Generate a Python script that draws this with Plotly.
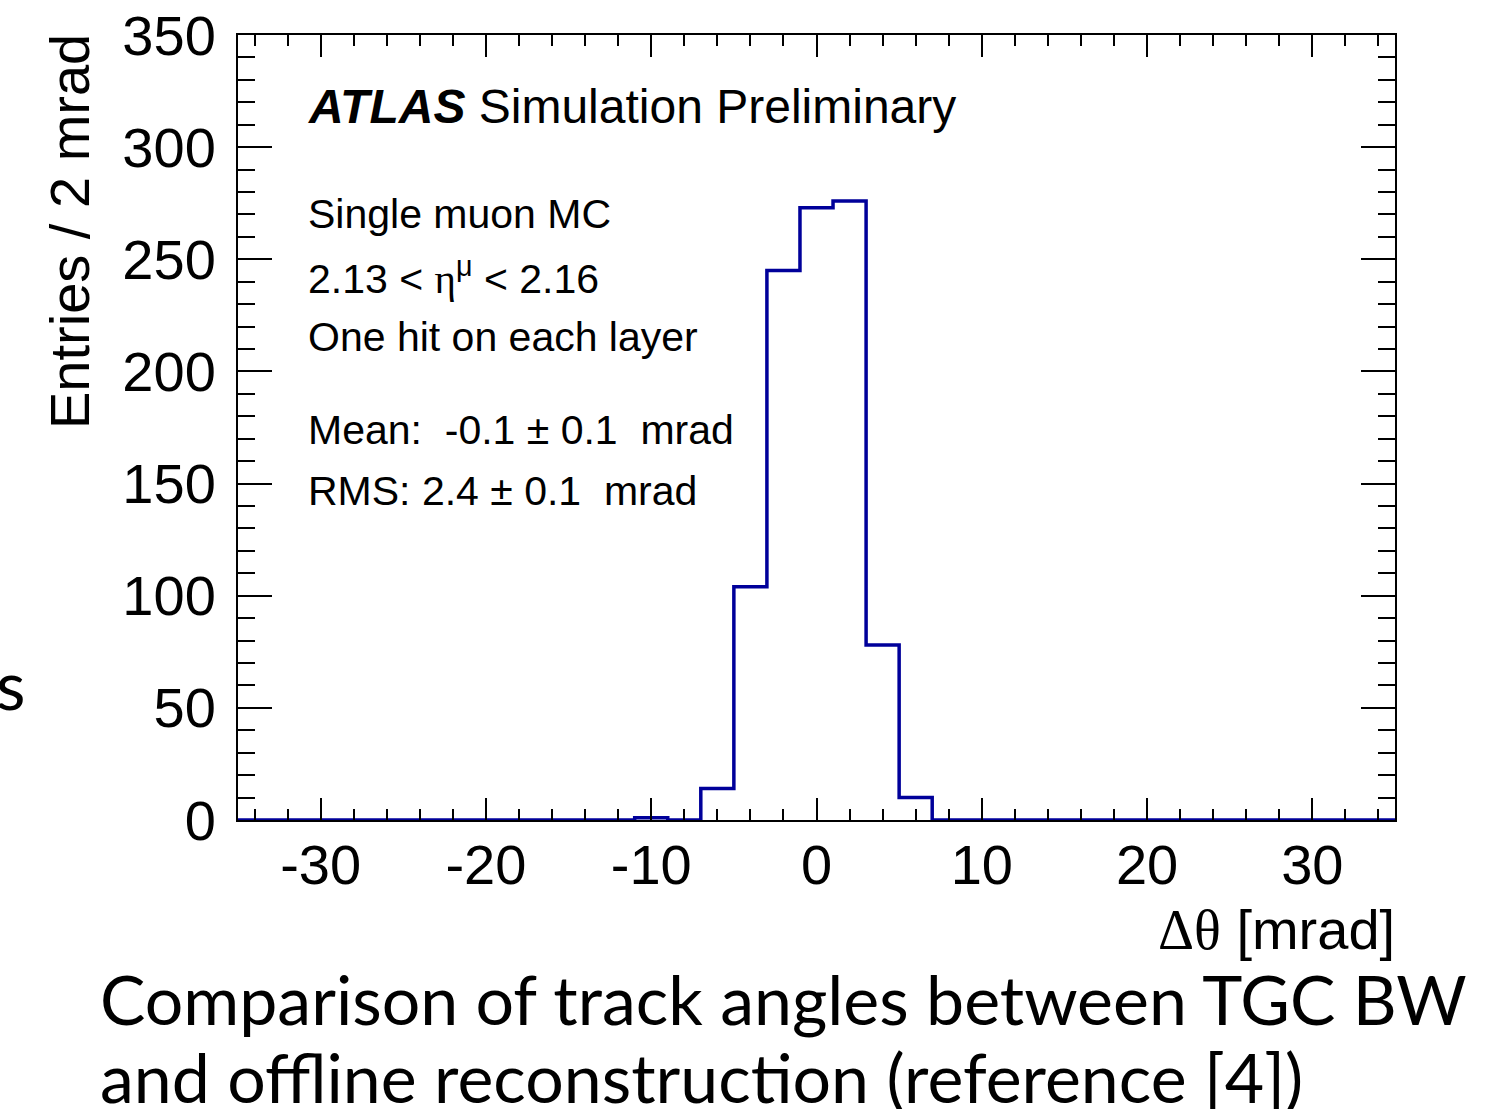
import plotly.graph_objects as go

# ---- data ----
bin_edges = [-35 + 2 * i for i in range(36)]          # 2 mrad bins from -35 to 35
counts = [0, 0, 0, 0, 0, 0, 0, 0, 0, 0,
          0, 0, 1, 0, 14, 104, 245, 273, 276, 78,
          10, 0, 0, 0, 0, 0, 0, 0, 0, 0,
          0, 0, 0, 0, 0]
x_ticks = [-30, -20, -10, 0, 10, 20, 30]
y_ticks = [0, 50, 100, 150, 200, 250, 300, 350]

# ---- figure geometry ----
W, H = 1505, 1109
L, R, T, B = 238, 1395, 35, 820

def px(xp):
    return (xp - L) / (R - L)

def py(yp):
    return (B - yp) / (B - T)

step_x = bin_edges[:-1] + [bin_edges[-1]]
step_y = counts + [counts[-1]]

fig = go.Figure()
fig.add_trace(go.Scatter(
    x=step_x, y=step_y, mode="lines",
    line=dict(shape="hv", color="#00009a", width=3.5),
    hoverinfo="skip", showlegend=False,
))

font_main = "Liberation Sans, Arial, sans-serif"

fig.update_layout(
    width=W, height=H,
    margin=dict(l=L, r=W - R, t=T, b=H - B, pad=0, autoexpand=False),
    paper_bgcolor="white", plot_bgcolor="white",
    showlegend=False,
    font=dict(family=font_main, color="black"),
)

fig.update_xaxes(
    range=[-35, 35], showgrid=False, zeroline=False, automargin=False,
    showline=True, linecolor="black", linewidth=2, mirror="ticks",
    ticks="inside", ticklen=22, tickwidth=2, tickcolor="black",
    tickvals=x_ticks, ticktext=[str(v) for v in x_ticks],
    tickfont=dict(size=56, family=font_main, color="black"),
    ticklabelstandoff=-5,
    minor=dict(dtick=2, tick0=0, ticks="inside", ticklen=11, tickwidth=2, tickcolor="black", showgrid=False),
)
fig.update_yaxes(
    range=[0, 350], showgrid=False, zeroline=False, automargin=False,
    showline=True, linecolor="black", linewidth=2, mirror="ticks",
    ticks="inside", ticklen=34, tickwidth=2, tickcolor="black",
    tickvals=y_ticks, ticktext=[str(v) for v in y_ticks],
    tickfont=dict(size=56, family=font_main, color="black"),
    ticklabelstandoff=9,
    minor=dict(dtick=10, tick0=0, ticks="inside", ticklen=17, tickwidth=2, tickcolor="black", showgrid=False),
)

ann = []
# axis titles
ann.append(dict(x=px(70), y=py(231), xref="paper", yref="paper", text="Entries / 2 mrad",
                textangle=-90, showarrow=False, xanchor="center", yanchor="middle",
                font=dict(size=56, family=font_main, color="black")))
ann.append(dict(x=px(1397), y=py(929), xref="paper", yref="paper",
                text="<span style='font-family:Liberation Serif'>Δθ</span> [mrad]",
                showarrow=False, xanchor="right", yanchor="middle",
                font=dict(size=56, family=font_main, color="black")))
# ATLAS label
ann.append(dict(x=px(306), y=py(107), xref="paper", yref="paper",
                text="<b><i>ATLAS</i></b> Simulation Preliminary",
                showarrow=False, xanchor="left", yanchor="middle",
                font=dict(size=48, family=font_main, color="black")))
info = [
    ("Single muon MC", 214),
    ("2.13 < <span style='font-family:Liberation Serif'>η</span><sup>μ</sup> < 2.16", 276),
    ("One hit on each layer", 337),
    ("Mean:  -0.1 ± 0.1  mrad", 430),
    ("RMS: 2.4 ± 0.1  mrad", 491),
]
for txt, yp in info:
    ann.append(dict(x=px(306), y=py(yp), xref="paper", yref="paper", text=txt,
                    showarrow=False, xanchor="left", yanchor="middle",
                    font=dict(size=41, family=font_main, color="black")))

# slide caption text around the chart
cap_font = dict(size=68, family="Lato, Noto Sans, sans-serif", color="black")
ann.append(dict(x=px(98), y=py(998), xref="paper", yref="paper",
                text="Comparison of track angles between TGC BW",
                showarrow=False, xanchor="left", yanchor="middle", font=cap_font))
ann.append(dict(x=px(98), y=py(1076), xref="paper", yref="paper",
                text="and offline reconstruction (reference [4])",
                showarrow=False, xanchor="left", yanchor="middle", font=cap_font))
ann.append(dict(x=px(-6), y=py(683), xref="paper", yref="paper", text="s",
                showarrow=False, xanchor="left", yanchor="middle", font=cap_font))

fig.update_layout(annotations=ann)
fig.write_html("out.html")
